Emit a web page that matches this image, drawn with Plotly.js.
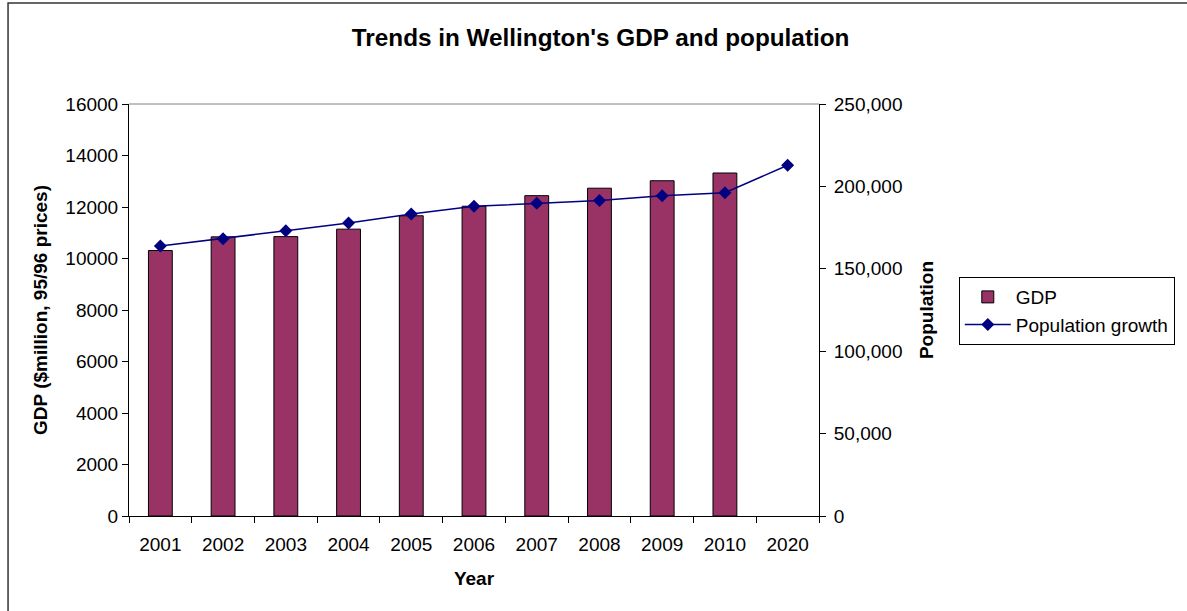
<!DOCTYPE html>
<html>
<head>
<meta charset="utf-8">
<script src="https://cdn.plot.ly/plotly-3.0.1.min.js"></script>
<style>
html,body{margin:0;padding:0;background:#fff;}
#chart{width:1187px;height:611px;}
</style>
</head>
<body>
<div id="chart"></div>
<script>
const years = ["2001","2002","2003","2004","2005","2006","2007","2008","2009","2010","2020"];
const gdpYears = ["2001","2002","2003","2004","2005","2006","2007","2008","2009","2010"];
const gdpValues = [10310, 10840, 10850, 11140, 11660, 12030, 12440, 12730, 13020, 13320];
const popYears = ["2001","2002","2003","2004","2005","2006","2007","2008","2009","2010","2020"];
const popValues = [163800, 168300, 173100, 177800, 183300, 187900, 189700, 191500, 194400, 196200, 212800];
const leftTicks = [0,2000,4000,6000,8000,10000,12000,14000,16000];
const rightTicks = [0,50000,100000,150000,200000,250000];

const FONT = "Liberation Sans, Arial, sans-serif";

const traces = [
  {
    type: "bar",
    name: "GDP",
    x: gdpYears,
    y: gdpValues,
    marker: {color: "#993366", line: {color: "#000000", width: 1}},
    yaxis: "y"
  },
  {
    type: "scatter",
    mode: "lines+markers",
    name: "Population growth",
    x: popYears,
    y: popValues,
    yaxis: "y2",
    line: {color: "#000080", width: 1.5},
    marker: {symbol: "diamond", size: 10, color: "#000080"}
  }
];

const layout = {
  width: 1187,
  height: 611,
  margin: {l: 129, r: 362, t: 104, b: 95, pad: 0},
  paper_bgcolor: "#ffffff",
  plot_bgcolor: "#ffffff",
  font: {family: FONT, size: 19, color: "#000000"},
  showlegend: true,
  bargap: 0.62,
  title: {
    text: "<b>Trends in Wellington's GDP and population</b>",
    font: {family: FONT, size: 24.3, color: "#000000"},
    x: 0.506, xref: "container", xanchor: "center",
    y: 0.938, yref: "container", yanchor: "middle"
  },
  xaxis: {
    type: "category",
    categoryorder: "array",
    categoryarray: years,
    range: [-0.5, 10.5],
    autorange: false,
    tickson: "boundaries",
    ticks: "outside",
    ticklen: 6,
    tickcolor: "#000000",
    showline: true,
    linecolor: "#000000",
    linewidth: 1,
    showgrid: false,
    zeroline: false,
    ticklabelstandoff: 11,
    tickfont: {family: FONT, size: 19, color: "#000000"},
    title: {text: "<b>Year</b>", font: {family: FONT, size: 19, color: "#000000"}, standoff: 17},
    automargin: false
  },
  yaxis: {
    range: [0, 16000],
    tickvals: leftTicks,
    ticktext: leftTicks.map(String),
    ticks: "outside",
    ticklen: 6,
    tickcolor: "#000000",
    showline: true,
    linecolor: "#000000",
    linewidth: 1,
    showgrid: false,
    zeroline: false,
    tickfont: {family: FONT, size: 19, color: "#000000"},
    title: {text: "<b>GDP ($million, 95/96 prices)</b>", font: {family: FONT, size: 19, color: "#000000"}, standoff: 12},
    automargin: false
  },
  yaxis2: {
    overlaying: "y",
    side: "right",
    range: [0, 250000],
    tickvals: rightTicks,
    tickformat: ",d",
    ticks: "outside",
    ticklen: 6,
    tickcolor: "#000000",
    showline: true,
    linecolor: "#000000",
    linewidth: 1,
    showgrid: false,
    zeroline: false,
    ticklabelstandoff: 4,
    tickfont: {family: FONT, size: 19, color: "#000000"},
    title: {text: "<b>Population</b>", font: {family: FONT, size: 19, color: "#000000"}, standoff: 18},
    automargin: false
  },
  legend: {
    x: 1.2026, xanchor: "left",
    y: 0.58, yanchor: "top",
    bgcolor: "#ffffff",
    bordercolor: "#000000",
    borderwidth: 1,
    itemwidth: 46,
    entrywidth: 192,
    entrywidthmode: "pixels",
    font: {family: FONT, size: 19, color: "#000000"},
    tracegroupgap: 4
  },
  shapes: [
    {type: "line", xref: "paper", yref: "paper", x0: 0, x1: 1, y0: 1, y1: 1,
     line: {color: "#808080", width: 1}},
    {type: "rect", xref: "paper", yref: "paper", x0: -0.1753, x1: 1.8, y0: -0.5, y1: 1.2451,
     line: {color: "#333333", width: 1.5}, fillcolor: "rgba(0,0,0,0)", layer: "below"}
  ]
};

Plotly.newPlot("chart", traces, layout, {displayModeBar: false, staticPlot: true});
</script>
</body>
</html>
